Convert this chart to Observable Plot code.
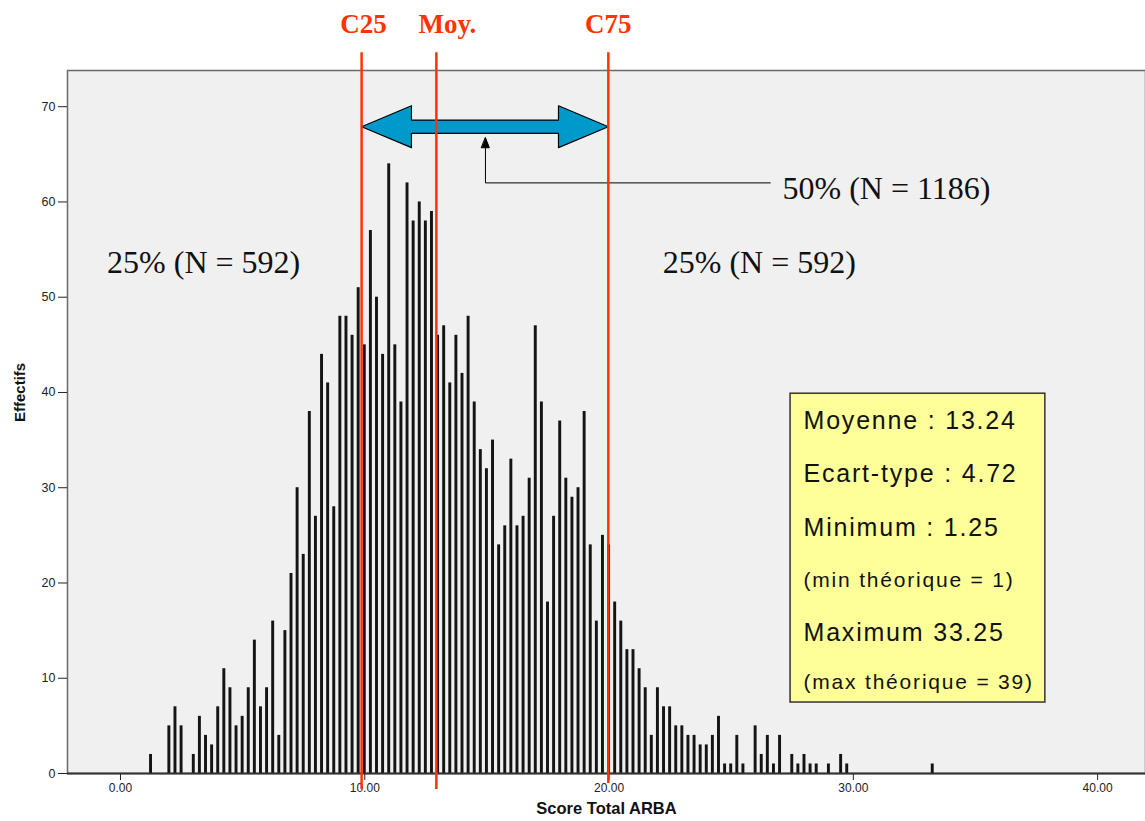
<!DOCTYPE html>
<html>
<head>
<meta charset="utf-8">
<script src="https://cdn.jsdelivr.net/npm/d3@7"></script>
<script src="https://cdn.jsdelivr.net/npm/@observablehq/plot@0.6"></script>
<style>
  html, body { margin: 0; padding: 0; background: white; }
  #chart svg { display: block; }
</style>
</head>
<body>
<div id="chart"></div>
<script>
// ---- Data (score value -> count) ----
const scores = [1.25, 2, 2.25, 2.5, 3, 3.25, 3.5, 3.75, 4, 4.25, 4.5, 4.75, 5, 5.25, 5.5, 5.75, 6,
  6.25, 6.5, 6.75, 7, 7.25, 7.5, 7.75, 8, 8.25, 8.5, 8.75, 9, 9.25, 9.5, 9.75,
  10, 10.25, 10.5, 10.75, 11, 11.25, 11.5, 11.75, 12, 12.25, 12.5, 12.75, 13, 13.25, 13.5, 13.75,
  14, 14.25, 14.5, 14.75, 15, 15.25, 15.5, 15.75, 16, 16.25, 16.5, 16.75, 17, 17.25, 17.5, 17.75,
  18, 18.25, 18.5, 18.75, 19, 19.25, 19.5, 19.75, 20, 20.25, 20.5, 20.75, 21, 21.25, 21.5, 21.75,
  22, 22.25, 22.5, 22.75, 23, 23.25, 23.5, 23.75, 24, 24.25, 24.5, 24.75, 25, 25.25, 25.5,
  26, 26.25, 26.5, 26.75, 27, 27.5, 27.75, 28, 28.25, 28.5, 29, 29.5, 29.75, 33.25];
const counts = [2, 5, 7, 5, 2, 6, 4, 3, 7, 11, 9, 5, 6, 9, 14, 7, 9,
  16, 4, 15, 21, 30, 23, 38, 27, 44, 41, 28, 48, 48, 46, 51,
  45, 57, 50, 44, 64, 45, 39, 62, 58, 60, 58, 59, 46, 47, 41, 46,
  42, 48, 39, 34, 32, 35, 24, 26, 33, 26, 27, 31, 47, 39, 18, 27,
  37, 31, 29, 30, 38, 24, 16, 25, 24, 18, 16, 13, 13, 11, 9, 4,
  9, 7, 7, 5, 5, 4, 4, 3, 3, 4, 6, 1, 1, 4, 1,
  5, 2, 4, 1, 4, 2, 1, 2, 1, 1, 1, 2, 1, 1];

const xTicks = [0, 10, 20, 30, 40];
const yTicks = [0, 10, 20, 30, 40, 50, 60, 70];

// ---- Annotations ----
const markerNames = ["C25", "Moy.", "C75"];
const markerLineX = [9.87, 12.93, 19.97];
const markerLabelX = [9.95, 13.38, 19.97];
const markerLineBottom = [-1.68, -1.68, -1.05];

const arrowX = [9.87, 11.91, 11.91, 17.93, 17.93, 19.97, 17.93, 17.93, 11.91, 11.91];
const arrowY = [67.9, 70.1, 68.6, 68.6, 70.1, 67.9, 65.7, 67.2, 67.2, 65.7];

const pointerX = [26.6, 14.94, 14.94];
const pointerY = [62.0, 62.0, 65.7];
const pointerHeadX = [14.78, 15.10, 14.94];
const pointerHeadY = [65.69, 65.69, 66.74];

const shareLabels = ["25% (N = 592)", "50% (N = 1186)", "25% (N = 592)"];
const shareX = [-0.55, 27.1, 22.2];
const shareY = [53.6, 61.4, 53.6];

const boxLines = ["Moyenne : 13.24", "Ecart-type : 4.72", "Minimum : 1.25", "(min théorique = 1)", "Maximum 33.25", "(max théorique = 39)"];
const boxLineSizes = [25, 25, 25, 21, 25, 21];
const boxLineY = [37.0, 31.45, 25.8, 20.25, 14.8, 9.55];
const boxLeft = 27.43, boxRight = 37.86, boxTop = 39.87, boxBottom = 7.45, boxTextX = 27.96;

// ---- Tables ----
const bars = scores.map((s, i) => ({score: s, n: counts[i]}));
const markers = markerNames.map((m, i) => ({name: m, x: markerLineX[i], lx: markerLabelX[i], yb: markerLineBottom[i]}));
const arrow = arrowX.map((x, i) => ({x, y: arrowY[i]}));
const pointer = pointerX.map((x, i) => ({x, y: pointerY[i]}));
const pointerHead = pointerHeadX.map((x, i) => ({x, y: pointerHeadY[i]}));
const shares = shareLabels.map((t, i) => ({t, x: shareX[i], y: shareY[i]}));
const box = boxLines.map((t, i) => ({t, y: boxLineY[i], s: boxLineSizes[i]}));

const red = "#ff3300";
const sans = "'Liberation Sans', Arial, sans-serif";
const serif = "'Liberation Serif', 'Times New Roman', serif";

const chart = Plot.plot({
  width: 1145,
  height: 821,
  marginLeft: 67,
  marginRight: 0,
  marginTop: 70,
  marginBottom: 48,
  style: {background: "white", fontFamily: sans, color: "#222"},
  x: {domain: [-2.17, 41.96]},
  y: {domain: [0, 73.8]},
  marks: [
    Plot.frame({fill: "#f0f0f0", stroke: "#6a6a6a", strokeWidth: 1.5}),
    Plot.axisY({ticks: yTicks, tickSize: 9, tickPadding: 3, fontSize: 12.5, label: null, tickFormat: d => String(d)}),
    Plot.axisX({ticks: xTicks, tickSize: 7, tickPadding: 3, fontSize: 12, label: null, tickFormat: d3.format(".2f")}),
    Plot.rect(bars, {x1: d => d.score - 0.06, x2: d => d.score + 0.06, y1: 0, y2: "n", fill: "#141414"}),
    Plot.ruleY([0], {stroke: "#333", strokeWidth: 2}),
    Plot.text(["Effectifs"], {frameAnchor: "left", dx: -47, rotate: -90, fontWeight: "bold", fontSize: 15, fill: "#111"}),
    Plot.text(["Score Total ARBA"], {frameAnchor: "bottom", dy: 40, fontWeight: "bold", fontSize: 16.5, fill: "#111"}),
    // blue double arrow
    Plot.line(arrow, {x: "x", y: "y", curve: "linear-closed", fill: "#0099cc", stroke: "black", strokeWidth: 1.2}),
    // pointer
    Plot.line(pointer, {x: "x", y: "y", stroke: "black", strokeWidth: 1}),
    Plot.line(pointerHead, {x: "x", y: "y", curve: "linear-closed", fill: "black", stroke: "black", strokeWidth: 1}),
    // red markers
    Plot.ruleX(markers, {x: "x", y1: "yb", y2: 75.66, stroke: red, strokeWidth: 2.5}),
    Plot.text(markers, {x: "lx", y: 78.6, text: "name", fill: red, fontFamily: serif, fontWeight: "bold", fontSize: 27}),
    // share labels
    Plot.text(shares, {x: "x", y: "y", text: "t", textAnchor: "start", fontFamily: serif, fontSize: 32, fill: "#111"}),
    // stats box
    Plot.rect([0], {x1: boxLeft, x2: boxRight, y1: boxBottom, y2: boxTop, fill: "#ffff99", stroke: "#333", strokeWidth: 1.5}),
    Plot.text(box, {x: boxTextX, y: "y", text: "t", fontSize: "s", textAnchor: "start", fill: "#111", fontFamily: sans})
  ]
});

document.getElementById("chart").appendChild(chart);
d3.select(chart).selectAll("text")
  .filter(function() { return boxLines.includes(this.textContent); })
  .attr("letter-spacing", "1.8px");
</script>
</body>
</html>
